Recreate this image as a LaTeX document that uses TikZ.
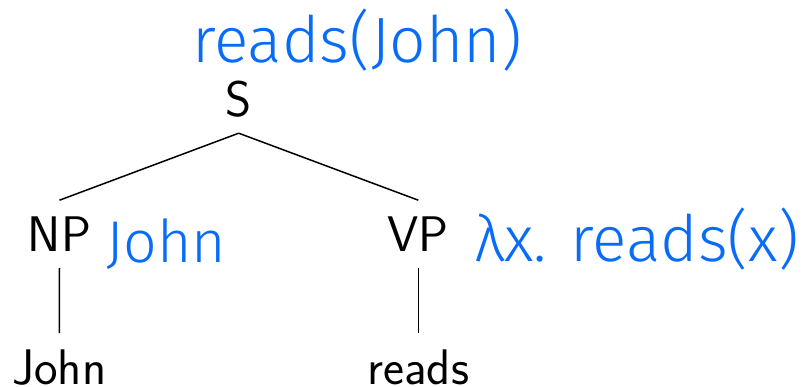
\documentclass[tikz,border=0pt]{standalone}
\usepackage{fontspec}
\newfontfamily\hand{Fira Sans Light}
\definecolor{penblue}{RGB}{8,108,248}
\begin{document}
\begin{tikzpicture}[x=1pt,y=-1pt,
  cat/.style={font=\fontsize{50}{60}\sffamily, inner sep=0pt, outer sep=16.5pt,
              text height=35pt, text depth=0pt, anchor=base},
  sem/.style={font=\hand\fontsize{64}{70}\selectfont, text=penblue, inner sep=0pt, anchor=base west},
  branch/.style={line width=1.5pt}]
\useasboundingbox (0,0) rectangle (802,387);
% syntax tree
\node[cat] (S)     at (238.7,116.7) {S};
\node[cat] (NP)    at (59.5,251.7)  {NP};
\node[cat] (VP)    at (418.3,251.7) {VP};
\node[cat] (john)  at (59.3,384.5)  {John};
\node[cat] (reads) at (418.3,384.5) {reads};
\draw[branch] (S.south) -- (NP.north);
\draw[branch] (S.south) -- (VP.north);
\draw[branch] (NP.south) -- (john.north);
\draw[branch] (VP.south) -- (reads.north);
% meanings written beside the nodes
\node[sem] (semS)  at (192,63)  {reads(John)};
\node[sem, font=\hand\fontsize{59}{70}\selectfont] (semNP) at (106,262) {John};
\node[sem, font=\hand\fontsize{64}{70}\selectfont] (semVP) at (474,261) {λx. reads(x)};
\end{tikzpicture}
\end{document}
